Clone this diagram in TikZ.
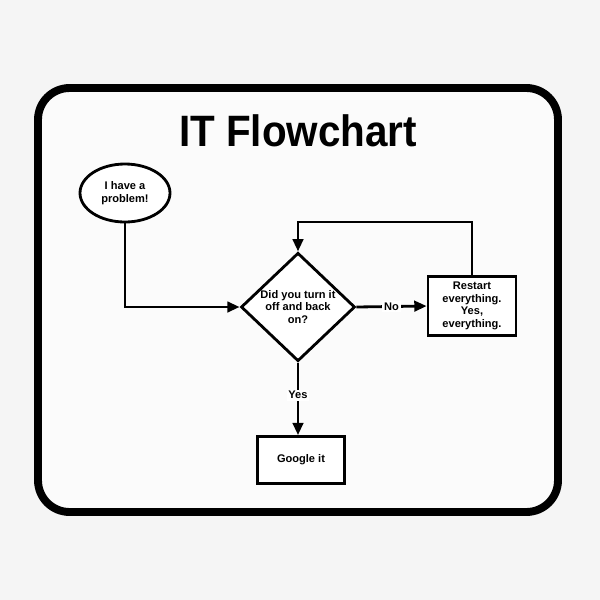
\documentclass[tikz,border=0pt]{standalone}
\usepackage{fontspec}
\setmainfont{Liberation Sans}
\usetikzlibrary{shapes.geometric,arrows.meta}
\tikzset{
  flow/.style={line width=1.6pt,-{Triangle[length=7pt,width=6pt]}},
  box/.style={draw,line width=1.6pt,fill=white,font=\bfseries\fontsize{6.3}{7.2}\selectfont,align=center,inner sep=0pt},
  lbl/.style={fill=white,font=\bfseries\fontsize{6.3}{7.2}\selectfont,inner sep=1pt}
}
\begin{document}
\begin{tikzpicture}[x=0.02cm,y=-0.02cm]
	\fill[gray!8] (0,0) rectangle (600,600);
	% the mat
	\draw[line width=4.5pt,fill=gray!3,rounded corners=18pt] (38,88) rectangle (558,512);
	\node[font=\bfseries\fontsize{25}{28}\selectfont,xscale=0.92] (title) at (298,131) {IT Flowchart};
	% nodes
	\node[box,ellipse,minimum width=90*0.02cm,minimum height=58*0.02cm] (prob) at (125,193) {I have a\\problem!};
	\node[box,diamond,minimum width=114*0.02cm,minimum height=94*0.02cm] (ask) at (298,307) {Did you turn it\\off and back\\on?};
	\node[box,minimum width=88*0.02cm,minimum height=59*0.02cm] (restart) at (472,306) {Restart\\everything.\\Yes,\\everything.};
	\node[box,minimum width=87*0.02cm,minimum height=47*0.02cm] (google) at (301,460) {Google it};
	\coordinate (loopR) at (472,222);
	\coordinate (loopL) at (298,222);
	% connectors
	\draw[flow] (prob.south) |- (ask.west);
	\draw[flow] (ask.east) -- node[lbl] {No} (restart.west);
	\draw[flow] (ask.south) -- node[lbl,pos=0.45] {Yes} (ask.south |- google.north);
	\draw[flow] (restart.north) -- (loopR) -- (loopL) -- (ask.north);
\end{tikzpicture}
\end{document}
